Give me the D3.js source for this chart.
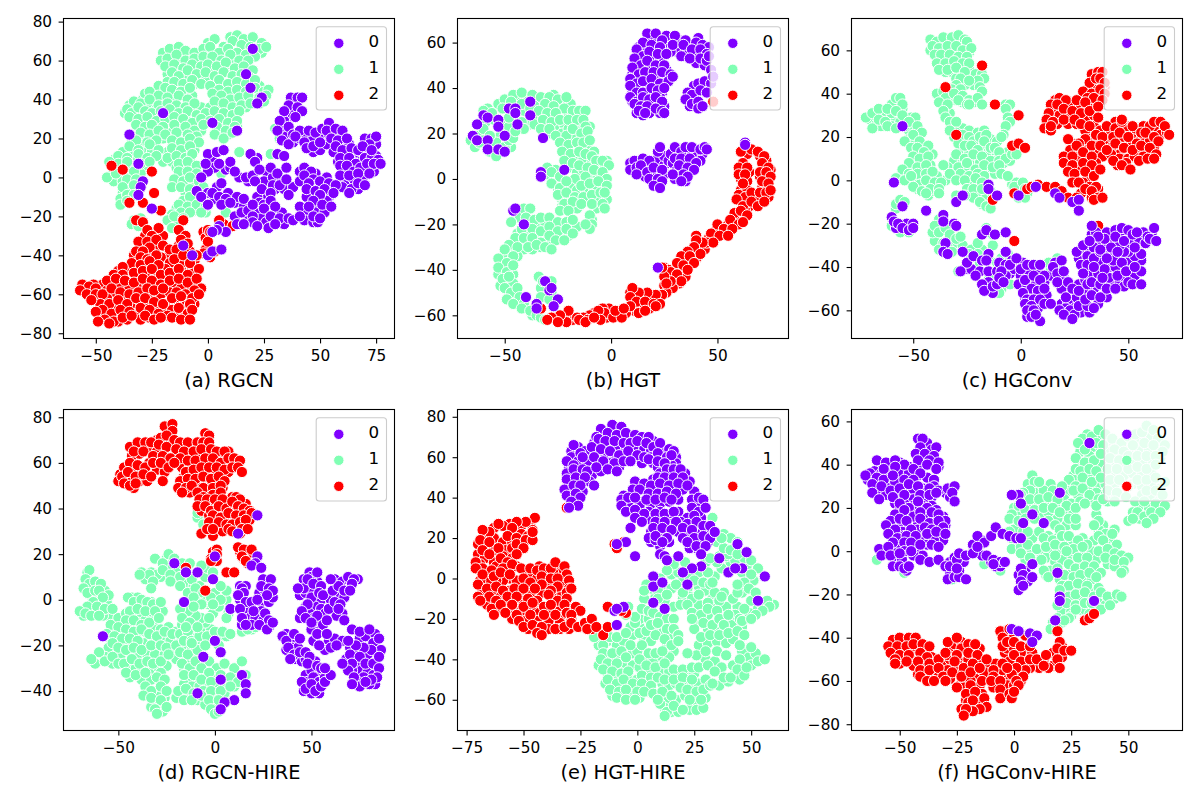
<!DOCTYPE html>
<html><head><meta charset="utf-8">
<script src="https://cdn.jsdelivr.net/npm/d3@7"></script>
<style>html,body{margin:0;padding:0;background:#fff;overflow:hidden}svg{display:block}text{font-family:"DejaVu Sans",sans-serif;fill:#000}</style>
</head><body><svg id="c" width="1200" height="800"></svg>
<script>
// Panel (a) RGCN
const a0=[[20,66],[17,53],[19,46],[24,41],[22,38],[-20,33],[2,28],[13,24],[-35,22],[-31,7],[-29,-2],[-30,-5],[-31,-9],[-25,-16],[-11,-35],[-7,-40],[0,-40],[2,-38],[6,-37],[4,-27],[2,-28],
[37,41],[40,41],[42,41],[36,37],[40,36],[34,34],[42,34],[39,31],[32,29],[36,26],[31,24],[38,22],[41,24],[33,19],[36,17],[39,21],[43,18],[45,24],[48,23],[51,25],[54,28],[53,24],[57,25],[60,24],[44,15],[47,16],[50,18],[55,20],[58,19],[62,20],[57,16],[60,14],[64,15],[67,14],
[59,10],[63,10],[66,7],[70,10],[73,10],[76,9],[70,20],[73,20],[75,21],[72,17],[69,16],[73,14],[59,6],[62,6],[65,3],[68,5],[71,7],[74,7],[77,7],[59,1],[63,1],[67,2],[72,2],[60,-5],[64,-6],[67,-3],[70,-4],[63,-8],
[0,12],[4,13],[7,14],[-1,7],[5,7],[10,8],[-3,0],[12,3],[17,0],[20,1],[19,12],[21,8],[23,4],[28,5],[31,2],[35,5],[31,12],[34,11],[6,-3],[21,-2],[24,-6],[28,-8],[32,-4],[35,-1],[36,-9],
[43,5],[46,3],[43,1],[47,-1],[45,-3],[50,-2],[54,-3],[57,-4],[44,-6],[48,-7],[52,-6],[56,-8],[50,-9],[47,-12],[51,-14],[55,-15],
[-5,-7],[-3,-10],[2,-8],[5,-10],[8,-11],[0,-14],[6,-14],[13,-10],[16,-11],[10,-13],[15,-18],[18,-17],[20,-14],[25,-14],[28,-12],[30,-15],[25,-16],[20,-20],[13,-24],[20,-23],[28,-20],[32,-21],[36,-21],[38,-22],[41,-15],[45,-15],[41,-20],[47,-20],[50,-21],[27,-26],[22,-25],[16,-24],[30,-24]];
const a0b=[[38,39],[37,33],[36,31],[34,29],[33,24],[35,21],[38,18],[41,20],[44,21],[47,20],[50,22],[54,22],[56,22],[60,21],[47,13],[50,14],[53,17],[56,13],[60,17],[63,17],[65,12],[68,11],[72,12],[75,17],[58,8],[61,8],[64,8],[68,8],[72,5],[75,11],[60,3],[64,4],[69,0],[74,3],[62,-2],[65,-1],[61,-4],[67,-6],[2,10],[3,5],[0,3],[8,4],[10,5],[14,0],[18,-2],[22,10],[26,3],[25,-2],[29,0],[33,-1],[30,-6],[34,-6],[38,-5],[25,-10],[29,-4],[22,-10],[41,3],[44,3],[48,2],[53,0],[41,-2],[46,-9],[50,-5],[54,-10],[53,-12],[49,-16],[44,-10],[43,-18],[0,-8],[3,-11],[4,-5],[9,-8],[12,-13],[12,-20],[16,-15],[18,-22],[22,-17],[24,-21],[26,-23],[30,-19],[33,-18],[34,-24],[23,-13],[43,-22],[48,-18],[52,-18],[47,-23],[49,-23],[5,-25],[8,-28]];
const a1=[[10,72],[13,73],[16,71],[20,72],[24,69],[0,69],[3,71],[7,67],[11,70],[15,68],[19,67],[23,66],[26,67],
[-20,64],[-17,66],[-13,67],[-10,65],[-6,64],[-2,66],[1,67],[5,64],[9,66],[13,64],[17,63],[21,62],
[-21,60],[-18,61],[-14,63],[-10,60],[-6,61],[-2,62],[2,62],[6,60],[10,63],[14,60],[18,60],
[-19,57],[-15,58],[-11,56],[-7,58],[-3,57],[0,58],[4,57],[8,59],[12,56],[16,57],[20,55],
[-16,54],[-13,52],[-9,55],[-5,53],[-1,54],[3,52],[7,54],[11,52],[15,53],[19,51],
[-15,49],[-11,48],[-7,50],[-3,48],[5,50],[9,48],[13,49],[17,48],[21,50],
[-22,47],[-19,46],[-16,45],[-12,44],[-8,46],[1,47],[5,45],[9,44],[13,45],[17,44],[21,46],[25,44],[27,45],
[-28,43],[-26,44],[-22,42],[-18,41],[-13,42],[-9,40],[2,43],[6,42],[10,40],[14,41],[18,42],[23,41],[26,42],
[-33,39],[-30,38],[-26,40],[-22,37],[-18,38],[-14,37],[-10,36],[-6,38],[3,39],[7,38],[11,36],[15,37],[19,38],[23,38],[25,39],
[-36,35],[-34,33],[-31,36],[-28,34],[-25,33],[-21,34],[-17,35],[-13,33],[-9,34],[-5,32],[-1,33],[3,34],[7,33],[11,32],[14,34],
[-35,31],[-31,30],[-27,31],[-23,29],[-19,30],[-15,31],[-11,30],[-7,28],[-3,30],[1,29],[5,30],[9,28],[13,29],
[-32,27],[-28,26],[-25,27],[-20,26],[-15,27],[-10,26],[-6,24],[-2,27],[4,26],[8,24],[12,26],
[-30,23],[-26,22],[-22,24],[-19,22],[-14,23],[-9,22],[-5,21],[3,22],[7,20],[11,23],
[-32,19],[-27,18],[-23,19],[-16,19],[-12,18],[-8,20],[-4,18],[-35,16],[-31,14],[-26,17],[-22,14],[-16,15],[-12,14],[-8,16],
[-40,11],[-36,10],[-31,12],[-27,10],[-23,11],[-18,10],[-14,11],[-10,10],[-7,12],[14,13],[19,12],[28,12],[30,25],[32,20],
[-44,8],[-40,7],[-36,8],[-30,7],[-26,8],[-13,7],[-9,8],[-5,6],[-42,3],[-38,4],[-33,3],[-13,3],[-9,3],[-5,2],[6,2],
[-45,0],[-41,2],[-36,-1],[-32,-1],[-15,-1],[-11,-2],[-8,0],[-4,-2],[-38,-5],[-33,-4],[-16,-5],[-12,-5],[-8,-6],[-2,-5],
[-39,-11],[-36,-9],[-33,-9],[-8,-10],[-3,-9],[-39,-14],[-36,-12],[-13,-14],[-9,-15],[-5,-14],[-1,-15],
[-16,-19],[-12,-18],[-8,-18],[-3,-18],[8,-18],[-33,-22],[-30,-21],[-18,-22],[-15,-20],[-11,-21],[-34,-24],[-31,-25],[-16,-26]];
const a1b=[[-19,63],[-16,62],[-12,60],[-8,63],[-4,60],[0,60],[4,62],[8,62],[12,61],[16,65],[20,64],[24,64],[-17,57],[-13,60],[-9,58],[-5,55],[-1,51],[2,56],[6,56],[10,55],[14,55],[18,55],[-18,53],[-14,49],[-10,51],[-6,48],[-18,49],[7,47],[11,47],[15,50],[19,47],[23,47],[-20,44],[-15,40],[-11,42],[-7,42],[4,40],[8,41],[12,43],[16,39],[20,40],[24,43],[-24,41],[-29,40],[-35,37],[-31,33],[-27,36],[-23,35],[-19,33],[-15,34],[-11,33],[-7,36],[-3,36],[1,36],[5,36],[9,35],[13,37],[17,36],[-37,33],[-33,30],[-29,29],[-25,30],[-21,28],[-17,28],[-13,28],[-9,29],[-5,26],[0,31],[3,28],[7,28],[11,29],[-30,26],[-26,25],[-22,26],[-18,24],[-12,25],[-8,24],[-3,24],[5,24],[9,22],[13,26],[-28,20],[-24,21],[-20,20],[-14,20],[-10,19],[-6,18],[-34,18],[-30,17],[-24,16],[-18,13],[-14,17],[-10,14],[-6,14],[-38,13],[-33,11],[-29,13],[-25,13],[-20,8],[-16,8],[-12,10],[-8,9],[-42,9],[-38,6],[-34,6],[-28,5],[-14,5],[-10,5],[-6,4],[-40,1],[-35,4],[-30,2],[-12,0],[-6,0],[-42,-2],[-38,-2],[-34,-6],[-14,-3],[-10,-4],[-6,-3],[-35,-12],[-38,-8],[-10,-8],[-5,-8],[-11,-12],[-7,-13],[-3,-13],[-14,-16],[-10,-17],[-6,-17],[-1,-18],[-16,-22],[-13,-23],[-32,-23]];
const a2=[[-43,6],[-38,4],[-25,3],[-24,-8],[-35,-13],[-29,-13],[-21,-17],[-32,-22],[-29,-23],[-11,-22],[-27,-27],[7,-24],[5,-22],[11,-25],[0,-27],[1,-28],[3,-38],[0,-33],
[-13,-27],[-10,-30],[-12,-32],[-9,-34],[-22,-26],[-25,-30],[-27,-33],[-23,-32],[-20,-35],[-26,-36],[-32,-38],[-29,-38],[-17,-37],[-14,-37],[-30,-41],[-27,-42],[-23,-40],[-15,-42],[-11,-40],[-8,-44],[-5,-40],
[-34,-44],[-30,-45],[-26,-43],[-22,-45],[-38,-46],[-42,-50],[-38,-50],[-33,-49],[-29,-48],[-25,-47],[-21,-50],[-17,-49],[-13,-47],[-9,-50],[-4,-47],[-45,-53],[-41,-52],[-37,-53],[-33,-54],[-29,-52],[-25,-53],[-21,-55],[-17,-53],[-13,-52],[-9,-54],[-5,-52],[-3,-57],[-6,-58],
[-56,-55],[-53,-56],[-50,-57],[-57,-58],[-54,-60],[-50,-60],[-47,-60],[-43,-57],[-39,-59],[-35,-60],[-31,-59],[-27,-57],[-24,-58],[-20,-57],[-14,-59],[-10,-60],[-7,-62],[-4,-60],
[-48,-65],[-44,-65],[-40,-63],[-36,-65],[-32,-62],[-28,-62],[-24,-64],[-20,-65],[-16,-62],[-12,-61],[-8,-65],[-52,-63],[-47,-68],[-43,-70],[-39,-68],[-35,-69],[-30,-67],[-26,-68],[-22,-70],[-18,-71],[-13,-67],[-9,-70],[-7,-68],
[-50,-69],[-46,-73],[-42,-74],[-38,-72],[-34,-71],[-28,-71],[-24,-73],[-21,-72],[-16,-72],[-12,-73],[-8,-73],[-44,-75],[-49,-74]];
const a2b=[[-20,-30],[-23,-36],[-28,-30],[-31,-33],[-18,-41],[-33,-40],[-29,-43],[-25,-39],[-21,-41],[-17,-44],[-11,-44],[-6,-43],[-13,-35],[-8,-38],[-36,-47],[-31,-50],[-27,-50],[-23,-49],[-19,-47],[-15,-50],[-11,-49],[-7,-47],[-40,-48],[-43,-54],[-39,-55],[-35,-57],[-31,-55],[-27,-55],[-23,-56],[-19,-54],[-15,-56],[-11,-57],[-7,-55],[-47,-55],[-51,-55],[-45,-58],[-41,-60],[-37,-62],[-33,-62],[-29,-60],[-25,-61],[-21,-60],[-17,-59],[-12,-57],[-8,-59],[-55,-57],[-52,-60],[-49,-63],[-45,-62],[-42,-66],[-38,-66],[-34,-66],[-30,-64],[-26,-65],[-22,-66],[-18,-65],[-14,-64],[-10,-66],[-6,-65],[-48,-71],[-45,-70],[-41,-71],[-37,-69],[-32,-70],[-28,-69],[-24,-70],[-20,-69],[-16,-68],[-11,-70],[-40,-74],[-36,-73],[-30,-73],[-26,-72],[-14,-71],[-10,-71],[-23,-68],[-2,-28],[-1,-31],[-1,-37],[-2,-39],[1,-41]];
// Panel (b) HGT
const b0=[[17,64],[21,64],[24,61],[30,63],[35,61],[40,60],[43,59],[46,58],[15,60],[19,59],[23,58],[29,59],[34,59],[38,57],[42,57],[45,55],[12,57],[15,54],[18,56],[22,55],[26,55],[33,54],[37,53],[42,53],[45,52],
[11,53],[14,50],[17,52],[21,50],[25,50],[10,49],[13,46],[16,47],[20,47],[24,47],[28,46],[9,44],[12,42],[15,43],[19,44],[23,42],[27,43],[29,45],[9,41],[12,38],[15,38],[19,40],[22,39],[25,40],
[9,36],[12,34],[15,36],[18,35],[21,36],[24,34],[11,33],[14,32],[17,32],[21,31],[24,30],[13,30],[16,29],[25,29],
[36,38],[38,37],[35,35],[38,33],[41,34],[41,31],[43,32],[41,42],[44,43],[42,39],[47,42],[45,38],[46,54],[47,48],[48,45],
[9,7],[11,8],[9,4],[12,5],[15,9],[18,8],[22,12],[23,14],[14,6],[12,2],[17,3],[20,5],[24,4],[18,0],[22,0],[24,-1],[20,-3],[23,-4],[28,11],[30,14],[33,12],[35,14],[38,14],[42,13],[44,14],[45,13],[30,9],[33,9],[37,9],[40,7],[32,6],[36,5],[39,4],[34,2],[36,1],[33,-1],[29,2],
[-65,19],[-63,17],[-63,24],[-60,28],[-58,27],[-53,26],[-53,23],[-58,17],[-58,13],[-53,13],[-50,12],[-50,19],[-48,31],[-45,31],[-45,29],[-44,24],[-38,34],[-38,28],[-32,18],[-33,3],[-33,1],[-22,4],[-46,-14],[-45,-13],[-41,-20],[-31,-45],[-29,-49],[-28,-48],[-25,-53],[-27,-56],[-40,-52],[-35,-55],[-35,-57],[22,-39],[63,16],[63,15]];
const b0b=[[19,62],[26,63],[32,61],[37,59],[41,62],[13,58],[17,58],[21,57],[25,58],[31,56],[36,55],[40,55],[44,58],[13,52],[16,52],[19,53],[23,53],[28,56],[40,51],[44,50],[12,48],[15,49],[18,48],[22,48],[26,48],[10,46],[14,44],[17,44],[21,45],[25,44],[10,42],[13,40],[17,41],[21,41],[24,38],[10,38],[14,36],[17,38],[20,38],[23,36],[10,34],[13,32],[16,33],[19,33],[22,32],[25,32],[12,29],[15,28],[18,29],[23,29],[37,35],[40,33],[39,36],[43,39],[39,41],[44,40],[37,32],[10,6],[13,8],[16,6],[19,5],[21,8],[22,3],[25,6],[16,1],[19,2],[15,4],[21,-2],[25,2],[25,10],[27,8],[31,11],[35,11],[37,12],[40,12],[43,11],[29,7],[34,7],[38,6],[42,8],[31,4],[35,3],[37,3],[30,0],[33,3],[35,-1]];
const b1=[[-66,17],[-64,14],[-62,16],[-60,30],[-56,29],[-60,22],[-57,19],[-57,12],[-54,10],[-50,14],[-48,17],[-46,18],[-53,33],[-50,35],[-46,37],[-42,38],[-37,37],[-33,36],[-51,31],[-47,34],[-42,33],[-38,31],[-42,25],[-41,22],[-36,24],[-45,21],
[-29,36],[-25,35],[-21,36],[-31,33],[-27,32],[-22,31],[-34,30],[-30,29],[-26,29],[-18,30],[-15,30],[-12,30],[-32,26],[-28,25],[-24,26],[-20,26],[-16,26],[-13,26],[-12,23],[-33,22],[-29,22],[-26,19],[-21,19],[-18,22],[-14,20],[-11,21],[-24,16],[-20,15],[-16,16],[-13,16],[-10,17],[-23,12],[-19,11],[-15,12],[-12,11],[-9,10],[-22,8],[-18,7],[-15,6],[-11,5],[-7,8],[-4,8],[-1,6],[-30,5],[-28,3],[-24,1],[-12,1],[-8,4],[-4,3],[-2,0],[-28,-2],[-24,-4],[-21,-1],[-14,-3],[-10,-2],[-6,-1],[-2,-3],[-25,-7],[-21,-6],[-17,-8],[-13,-8],[-9,-7],[-5,-6],[-3,-6],[-22,-11],[-18,-10],[-14,-11],[-9,-11],[-4,-11],[-3,-13],[-24,-14],[-20,-14],[-10,-16],[-9,-20],[-10,-22],[-12,-20],
[-41,-13],[-38,-13],[-40,-17],[-47,-19],[-36,-18],[-33,-17],[-29,-17],[-25,-19],[-21,-19],[-18,-18],[-42,-22],[-37,-22],[-33,-23],[-29,-21],[-25,-23],[-21,-22],[-18,-24],[-45,-26],[-41,-26],[-37,-26],[-33,-28],[-29,-25],[-26,-27],[-22,-27],[-48,-29],[-44,-30],[-39,-30],[-35,-29],[-31,-30],[-28,-31],[-50,-31],[-46,-34],[-53,-35],[-49,-37],[-53,-39],[-49,-41],[-46,-38],[-51,-44],[-48,-43],[-50,-48],[-47,-50],[-44,-48],[-43,-52],[-41,-55],[-49,-53],[-46,-55],[-42,-57],[-38,-58],[-35,-60],[-33,-61],[-31,-62],[-32,-45],[-28,-45],[-33,-52],[-29,-53]];
const b1b=[[-63,19],[-60,17],[-59,25],[-58,31],[-55,26],[-52,19],[-50,24],[-48,23],[-48,27],[-54,16],[-47,14],[-50,33],[-44,35],[-40,36],[-35,34],[-41,30],[-37,27],[-40,34],[-44,22],[-38,24],[-32,35],[-27,37],[-23,34],[-19,33],[-28,34],[-25,32],[-20,29],[-16,28],[-32,30],[-28,28],[-24,23],[-30,24],[-26,23],[-22,24],[-17,24],[-14,23],[-10,23],[-28,20],[-23,20],[-20,22],[-16,21],[-12,18],[-22,16],[-18,18],[-14,14],[-11,14],[-8,12],[-21,10],[-17,10],[-13,9],[-9,7],[-6,7],[-20,5],[-16,3],[-13,4],[-6,5],[-2,8],[-3,5],[-26,4],[-30,2],[-26,-2],[-22,-3],[-10,1],[-6,1],[-17,0],[-25,-4],[-19,-4],[-16,-5],[-12,-5],[-8,-4],[-4,-2],[-23,-9],[-19,-8],[-15,-9],[-11,-9],[-7,-9],[-2,-9],[-23,-12],[-16,-13],[-20,-11],[-7,-13],[-9,-18],[-43,-17],[-44,-24],[-39,-20],[-35,-21],[-31,-19],[-27,-21],[-23,-20],[-19,-21],[-16,-21],[-40,-24],[-36,-24],[-32,-25],[-28,-23],[-24,-26],[-20,-25],[-43,-28],[-38,-27],[-34,-26],[-30,-27],[-41,-31],[-37,-31],[-33,-30],[-47,-31],[-44,-34],[-50,-34],[-47,-36],[-51,-38],[-48,-39],[-53,-42],[-49,-45],[-46,-42],[-52,-47],[-46,-46],[-48,-51],[-44,-51],[-45,-53],[-43,-55],[-40,-57],[-47,-53],[-37,-60],[-34,-60],[-30,-48],[-33,-48],[-31,-52],[-28,-50],[-34,-43]];
const b2=[[61,12],[66,13],[69,12],[72,10],[62,7],[60,5],[64,5],[71,7],[74,5],[60,2],[63,2],[70,3],[73,3],[75,1],[62,-2],[71,-1],[74,-2],[60,-7],[63,-8],[66,-6],[70,-6],[73,-6],[75,-5],[59,-9],[62,-12],[66,-10],[69,-12],[72,-10],[58,-15],[61,-14],[64,-16],[56,-18],[60,-20],[62,-19],[50,-20],[53,-22],[57,-22],[47,-24],[51,-25],[55,-25],[45,-28],[48,-28],[43,-28],[40,-25],[40,-27],[39,-30],[36,-32],[42,-33],[33,-34],[37,-34],[39,-37],[31,-37],[34,-38],[28,-41],[31,-42],[36,-40],[33,-45],[28,-45],[25,-43],[26,-46],[24,-39],[24,-51],[21,-51],[17,-50],[13,-50],[10,-48],[9,-52],[12,-54],[16,-54],[20,-55],[23,-55],[9,-56],[13,-59],[16,-58],[21,-56],
[-1,-57],[-4,-57],[-3,-59],[-6,-58],[-5,-62],[1,-61],[5,-61],[-11,-62],[-16,-61],[-15,-62],[-20,-58],[-21,-63],[-24,-60],[-28,-61],[-30,-62],[-25,-63],[-12,-63],[-8,-61],[2,-58],[6,-57],[-33,-57],[48,34]];
const b2b=[[64,11],[70,10],[73,8],[65,3],[62,4],[61,0],[72,5],[75,4],[64,-1],[70,1],[74,0],[61,-5],[64,-5],[68,-8],[71,-4],[74,-8],[65,-12],[70,-9],[63,-14],[58,-18],[55,-20],[58,-20],[52,-24],[49,-23],[46,-26],[49,-26],[41,-30],[44,-31],[38,-33],[35,-36],[40,-35],[32,-40],[36,-37],[29,-44],[32,-46],[27,-42],[35,-43],[25,-47],[29,-48],[22,-52],[26,-50],[19,-52],[15,-52],[11,-52],[14,-56],[18,-57],[11,-58],[7,-59],[9,-50],[3,-60],[0,-60],[-2,-61],[-8,-59],[-10,-60],[-13,-61],[-18,-62],[-22,-61],[-26,-61],[-5,-59],[-3,-57],[-1,-59],[25,-39],[27,-40]];
// Panel (c) HGConv
const c0=[[-55,25],[-59,-1],[-55,-12],[-44,-14],[-36,-16],[-36,-19],[-31,-20],[-30,-21],[-30,-10],[-27,-7],[-15,-2],[-15,-4],[-11,-7],[-1,-7],[7,-3],[16,-6],[18,-8],[24,-10],[27,-9],[27,-14],
[-60,-17],[-59,-19],[-57,-20],[-55,-22],[-52,-23],[-50,-20],[-50,-22],[-35,-29],[-36,-33],[-34,-34],[-27,-33],[-18,-25],[-16,-23],[-12,-25],[-7,-24],
[-25,-38],[-28,-42],[-22,-35],[-18,-37],[-15,-34],[-16,-37],[-21,-44],[-18,-48],[-17,-51],[-13,-49],[-11,-48],
[-7,-33],[-4,-37],[-7,-39],[-5,-39],[-9,-42],[-10,-45],[-8,-47],[0,-41],[-2,-36],[3,-39],[6,-39],[9,-39],[11,-44],[2,-46],[6,-44],[9,-46],[5,-50],[1,-52],[8,-51],[11,-50],[3,-55],[6,-55],[2,-57],[5,-58],[9,-55],[3,-60],[6,-60],[5,-63],[9,-65],[7,-62],[11,-57],[14,-57],[18,-60],[19,-37],[15,-40],[17,-43],[20,-42],[17,-47],[22,-47],[21,-54],[24,-50],[27,-51],[31,-48],[23,-60],[25,-62],[20,-62],[24,-64],[27,-58],[31,-58],[34,-59],[30,-55],[33,-53],[37,-54],
[26,-33],[29,-30],[31,-35],[34,-31],[31,-39],[34,-36],[37,-33],[33,-47],[37,-48],[41,-45],[36,-43],[39,-41],[43,-37],[40,-50],[44,-50],[45,-44],[47,-38],[49,-42],[50,-47],[52,-48],[56,-48],[56,-42],[53,-40],[56,-34],[53,-31],[48,-33],[46,-30],[42,-31],[39,-27],[36,-26],[33,-21],[32,-28],[44,-26],[47,-22],[50,-23],[48,-28],[52,-25],[54,-24],[59,-26],[62,-22],[60,-27],[63,-28],[37,-32],[40,-36],[45,-33],[29,-43],[34,-40],[38,-45]];
const c0b=[[-26,-41],[-23,-41],[-19,-42],[-15,-42],[-11,-42],[-5,-43],[-3,-41],[-7,-44],[-15,-47],[-13,-52],[-10,-38],[1,-38],[0,-44],[4,-42],[8,-42],[-1,-48],[3,-48],[7,-48],[11,-47],[4,-52],[7,-54],[10,-52],[12,-53],[2,-54],[7,-57],[3,-63],[8,-59],[5,-60],[16,-38],[20,-45],[14,-44],[23,-48],[19,-50],[19,-57],[22,-57],[26,-54],[29,-52],[34,-50],[27,-48],[21,-59],[25,-59],[28,-61],[32,-61],[36,-57],[40,-54],[31,-51],[27,-36],[30,-33],[28,-39],[33,-36],[36,-36],[41,-34],[30,-46],[33,-43],[41,-40],[44,-40],[42,-47],[46,-47],[47,-44],[48,-49],[53,-44],[56,-37],[50,-37],[53,-35],[50,-33],[46,-35],[49,-30],[43,-28],[40,-24],[38,-30],[35,-29],[33,-25],[44,-23],[47,-25],[51,-27],[46,-26],[55,-27],[58,-29],[61,-24],[57,-24],[35,-24],[38,-38],[-58,-22],[-53,-20]];
const c1=[[-42,65],[-39,64],[-36,66],[-32,66],[-29,67],[-26,65],[-25,64],[-41,62],[-38,61],[-34,62],[-30,62],[-27,60],[-23,61],[-40,58],[-37,58],[-33,58],[-29,57],[-25,57],[-39,54],[-35,54],[-31,55],[-27,54],[-24,54],[-38,51],[-34,51],[-30,52],[-26,50],
[-18,49],[-17,47],[-20,46],[-28,47],[-24,46],[-30,44],[-19,43],[-32,42],[-28,42],[-18,41],
[-39,40],[-36,41],[-35,38],[-31,40],[-27,39],[-24,37],[-20,38],[-38,36],[-34,35],[-29,37],[-25,35],[-24,35],[-36,32],[-18,35],[-7,35],[-5,35],[-7,33],[-35,29],[-6,29],[-5,27],[-33,27],[-30,27],[-7,25],[-8,21],[-9,20],
[-30,22],[-33,23],[-27,21],[-24,20],[-22,18],[-19,20],[-16,21],[-29,17],[-26,16],[-23,16],[-20,14],[-17,18],[-14,15],[-12,15],[-10,13],[-30,12],[-26,10],[-22,12],[-18,11],[-14,9],[-10,9],[-7,10],[-4,12],[-2,12],[-29,6],[-25,8],[-21,5],[-17,7],[-13,6],[-10,7],[-9,3],[-6,2],[-28,3],[-24,2],[-20,3],[-17,2],
[-36,7],[-33,3],[-30,0],[-26,0],[-21,1],[-18,-1],
[-72,29],[-69,24],[-69,31],[-66,33],[-66,28],[-63,27],[-60,35],[-58,38],[-56,38],[-55,35],[-62,33],[-58,32],[-55,30],[-62,25],[-58,24],[-54,25],[-49,29],[-52,27],[-48,25],[-46,22],[-50,21],[-54,18],[-47,18],[-51,15],[-48,15],[-43,16],[-45,13],[-50,11],[-47,10],[-43,11],[-52,8],[-48,6],[-44,7],[-55,5],[-52,3],[-48,3],[-44,3],[-41,4],[-58,1],[-54,0],[-51,2],[-47,-2],[-44,0],[-40,-1],[-37,-1],[-50,-3],[-46,-5],[-42,-4],[-38,-4],[-44,-6],[-38,-6],
[-25,-4],[-22,-4],[-18,-4],[-14,-5],[-22,-8],[-19,-10],[-16,-12],[-14,-13],[-26,-7],[-3,-3],[1,-1],[2,-4],[-1,-8],[2,-8],[-30,-7],
[-58,-11],[-56,-9],[-54,-10],[-60,-21],[-56,-24],[-52,-24],[-38,-18],[-40,-21],[-38,-24],[-35,-22],[-33,-25],[-30,-27],[-28,-26],[-36,-29],[-38,-32],[-32,-33],[-20,-29],[-16,-22],[-13,-25],[-24,-34],[-20,-34],[-15,-36],[-11,-38],[-7,-33],[-12,-44],[-29,-42],[-6,-34],[-13,-50],[-10,-52],[-5,-48],[17,-36],[4,-60],[13,-38],[18,-40]];
const c1b=[[-40,64],[-37,62],[-33,64],[-30,65],[-27,63],[-42,60],[-36,60],[-32,60],[-28,59],[-24,59],[-38,56],[-34,56],[-30,58],[-26,56],[-37,53],[-33,53],[-29,53],[-35,50],[-32,50],[-28,51],[-24,51],[-21,49],[-19,46],[-30,47],[-26,47],[-22,44],[-29,40],[-26,44],[-34,40],[-37,39],[-32,37],[-27,36],[-22,36],[-36,34],[-33,31],[-31,25],[-27,24],[-24,23],[-20,22],[-17,23],[-14,19],[-11,18],[-31,20],[-28,19],[-25,18],[-21,16],[-18,15],[-15,13],[-12,12],[-8,12],[-6,13],[-28,14],[-24,13],[-20,11],[-16,11],[-12,9],[-8,8],[-5,9],[-31,9],[-27,8],[-23,7],[-19,8],[-15,5],[-12,3],[-26,5],[-22,3],[-18,4],[-34,6],[-31,3],[-27,2],[-23,0],[-35,0],[-70,28],[-67,26],[-65,30],[-63,32],[-60,28],[-60,31],[-58,36],[-55,33],[-65,25],[-60,25],[-56,27],[-51,29],[-50,25],[-52,23],[-48,22],[-52,19],[-49,18],[-50,14],[-46,15],[-43,13],[-48,12],[-45,10],[-41,12],[-50,8],[-46,7],[-42,7],[-53,5],[-50,5],[-46,3],[-42,1],[-56,2],[-52,0],[-49,0],[-45,-3],[-41,-2],[-39,2],[-48,-4],[-43,-7],[-40,-5],[-23,-6],[-20,-7],[-16,-8],[-18,-11],[-13,-9],[-4,-2],[0,-5],[-2,-1],[3,-6],[-58,-13],[-57,-22],[-53,-20],[-37,-22],[-33,-23],[-31,-29],[-27,-30],[-34,-31],[-40,-28],[-41,-24],[-23,-32],[-18,-32],[-13,-30],[-9,-36],[-15,-42],[-24,-40],[-9,-50],[-15,-46],[-19,-38],[16,-44],[14,-41]];
const c2=[[-18,53],[-35,43],[-12,35],[-1,30],[-30,21],[-4,16],[-1,17],[2,15],[-13,-9],[-3,-6],[3,-4],[5,-3],[8,-2],[12,-3],[16,-3],[19,-5],[22,-8],[26,-8],[-3,-28],[36,-21],
[33,49],[36,50],[38,50],[32,45],[35,47],[37,47],[39,45],[29,41],[33,40],[37,42],[39,40],[31,38],[34,38],[38,37],[14,35],[18,38],[21,37],[26,37],[30,36],[13,31],[17,35],[20,33],[24,32],[28,31],[32,32],[36,34],[12,28],[15,27],[11,24],[14,23],[20,28],[25,28],[28,26],[32,25],[36,29],[14,25],
[40,25],[44,24],[47,27],[47,28],[52,25],[56,22],[60,25],[62,27],[65,27],[67,25],[69,21],[35,21],[38,20],[43,20],[46,22],[50,20],[54,17],[58,22],[62,20],[64,18],[30,19],[33,16],[37,16],[40,14],[44,17],[48,15],[52,14],[56,16],[60,15],[63,12],[22,19],[27,17],[23,14],[26,16],[29,13],[33,11],[20,11],[24,11],[20,8],[24,7],[29,8],[33,7],[43,9],[47,7],[51,5],[55,9],[59,10],[62,10],[22,4],[25,3],[30,4],[34,2],[37,5],[24,-1],[27,-1],[35,-3],[30,-4],[33,-5],[36,-8],[34,-9],[38,-8]];
const c2b=[[34,47],[36,44],[31,42],[34,42],[36,39],[39,43],[33,36],[16,37],[19,35],[23,35],[27,34],[31,34],[15,31],[18,30],[22,30],[26,30],[30,29],[34,30],[13,26],[17,26],[22,26],[26,26],[30,23],[34,25],[12,26],[41,22],[44,27],[49,25],[53,22],[57,25],[63,24],[66,22],[37,23],[40,18],[45,19],[48,20],[52,19],[56,19],[60,18],[65,21],[68,22],[32,19],[35,17],[39,16],[42,15],[46,12],[50,16],[54,13],[58,13],[62,15],[24,17],[28,14],[31,14],[35,12],[38,11],[42,12],[46,10],[50,10],[53,11],[57,11],[22,9],[27,11],[31,9],[35,8],[45,7],[49,8],[23,6],[27,5],[31,1],[34,5],[25,0],[29,-1],[32,-3],[36,-4],[28,-6],[33,-8]];
// Panel (d) RGCN-HIRE
const d0=[[22,37],[12,29],[22,19],[21,16],[19,15],[24,14],[-21,16],[-15,12],[-9,12],[0,19],[-1,9],[25,9],[29,9],[-58,-16],[-16,-1],[8,-4],[0,-18],[3,-23],[-6,-25],[3,-35],[-9,-41],[14,-33],[16,-37],[16,-41],[10,-44],[5,-45],[3,-48],
[14,5],[15,3],[12,2],[24,6],[28,5],[30,4],[27,2],[16,-1],[19,-1],[22,0],[13,-4],[20,-5],[26,-6],[28,-9],[14,-8],[16,-11],[23,-11],[27,-13],[30,-10],[35,-16],[37,-18],[41,-15],[44,-17],[38,-21],[41,-24],[39,-26],[44,-23],[47,-23],[49,-25],[48,-28],[53,-29],[55,-30],[45,-36],[47,-39],[50,-37],[52,-40],[55,-38],[57,-36],[60,-33],[57,-30],
[46,5],[50,10],[53,12],[48,9],[51,7],[55,6],[43,5],[50,1],[54,3],[56,2],[48,-2],[45,-5],[47,-8],[53,-7],[50,-10],[56,-11],[58,-9],[53,-15],[58,-15],[54,-20],[60,-21],[59,-4],[62,-1],[65,-2],[61,4],[64,6],[67,4],[60,9],[69,10],[72,9],[71,7],[70,4],[64,-4],[67,-9],[75,-14],[80,-13],[85,-17],[86,-22],[81,-22],[77,-21],[73,-20],[69,-18],[70,-24],[75,-25],[78,-28],[82,-28],[85,-30],[84,-34],[81,-35],[71,-28],[69,-31],[72,-34],[75,-38],[71,-37],[78,-36],[85,-25],[66,-28],[63,-20]];
const d0b=[[13,6],[16,6],[13,0],[23,3],[26,4],[24,-1],[28,-1],[30,1],[17,-4],[24,-5],[18,-8],[21,-8],[25,-9],[28,-12],[14,-11],[19,-11],[37,-15],[40,-18],[37,-22],[40,-21],[43,-21],[42,-26],[45,-27],[47,-26],[50,-28],[52,-27],[47,-33],[50,-31],[54,-33],[48,-36],[51,-34],[46,-40],[50,-41],[54,-41],[54,-36],[57,-34],[49,7],[46,9],[49,12],[52,10],[53,8],[44,2],[47,3],[50,4],[52,1],[55,0],[47,-3],[52,-3],[55,-4],[49,-6],[44,-8],[51,-8],[54,-11],[57,-6],[50,-13],[55,-13],[59,-18],[51,-18],[57,-22],[62,-17],[62,-4],[60,0],[64,1],[67,1],[62,9],[66,8],[66,-6],[70,8],[63,-7],[74,9],[71,-13],[75,-17],[78,-16],[83,-15],[82,-19],[79,-24],[74,-22],[84,-23],[73,-28],[76,-31],[79,-32],[82,-33],[70,-21],[68,-26],[71,-31],[77,-34],[74,-36],[83,-37],[80,-37],[66,-18]];
const d1=[[-65,13],[-67,9],[-65,7],[-62,8],[-68,5],[-66,3],[-62,4],[-59,7],[-60,4],[-55,2],[-58,1],[-63,-1],[-66,-3],[-61,-3],[-70,-5],[-67,-6],[-64,-7],[-57,-4],[-53,-4],[-60,-7],[-45,1],[-42,-1],[-38,0],[-35,-1],[-32,-2],[-28,-1],[-44,-5],[-40,-4],[-36,-5],[-31,-5],[-46,-9],[-42,-9],[-38,-11],[-34,-10],[-29,-8],[-54,-11],[-50,-12],[-46,-13],[-42,-14],[-38,-13],[-56,-15],[-52,-16],[-48,-17],[-44,-17],[-40,-18],[-34,-15],[-30,-16],[-26,-14],[-22,-15],[-18,-15],[-14,-14],[-53,-19],[-50,-21],[-46,-22],[-42,-21],[-38,-22],[-33,-20],[-28,-20],[-25,-21],[-20,-20],[-16,-18],[-12,-18],[-8,-16],[-4,-16],[0,-14],[4,-14],[8,-15],
[-60,-23],[-57,-27],[-53,-25],[-50,-28],[-47,-28],[-43,-26],[-39,-28],[-35,-27],[-32,-28],[-28,-27],[-24,-24],[-18,-23],[-14,-24],[-9,-22],[-5,-20],[-12,-19],[-64,-26],[-46,-32],[-41,-33],[-36,-32],[-30,-34],[-26,-35],[-17,-28],[-13,-30],[-10,-27],[-7,-30],[-3,-32],[5,-28],[10,-30],[14,-27],[-16,-33],[-11,-33],[-7,-35],[-2,-36],[3,-33],[8,-34],[12,-36],[16,-33],
[-36,-38],[-33,-40],[-28,-38],[-25,-40],[-19,-40],[-15,-39],[-11,-41],[-6,-40],[-2,-40],[3,-40],[8,-38],[-37,-42],[-33,-43],[-28,-44],[-25,-47],[-16,-44],[-12,-44],[-7,-42],[-3,-44],[2,-44],[-31,-48],[-30,-50],[-2,-48],[0,-50],[2,-49],
[-31,18],[-27,16],[-24,20],[-21,18],[-17,16],[-13,16],[-27,13],[-23,11],[-18,10],[-12,9],[-38,12],[-34,11],[-32,8],[-23,8],[-18,6],[-14,3],[-10,5],[-6,3],[-4,14],[-1,12],[-7,15],[-39,11],[-33,5],[-5,-1],[-2,1],[3,0],[6,4],[3,6],[-1,-2],[7,-6],[6,-8],[-7,-8],[-10,-7],[-14,-5],[-18,-4],[-17,-8],[-13,-10],[-9,-12],[-3,-8],[-15,-12],[14,-14],[17,-13],[21,-12],[-11,1],[-7,-2],[-11,-3],[-9,36],[-6,33],[-9,38]];
const d1b=[[-66,12],[-66,6],[-63,6],[-64,2],[-60,1],[-57,4],[-56,-1],[-60,-1],[-66,-5],[-63,-4],[-68,-7],[-55,-7],[-58,-7],[-50,-8],[-43,1],[-40,1],[-37,-2],[-33,-1],[-30,-3],[-46,-6],[-42,-6],[-38,-7],[-34,-6],[-44,-11],[-40,-10],[-36,-9],[-31,-9],[-27,-5],[-52,-13],[-48,-14],[-44,-14],[-40,-14],[-36,-14],[-32,-13],[-28,-13],[-24,-12],[-20,-14],[-54,-17],[-50,-17],[-46,-18],[-42,-18],[-36,-19],[-32,-17],[-27,-17],[-23,-18],[-18,-19],[-14,-17],[-10,-15],[-6,-14],[-2,-13],[2,-16],[6,-16],[-55,-21],[-51,-24],[-48,-24],[-44,-23],[-40,-24],[-36,-23],[-31,-24],[-26,-24],[-22,-22],[-16,-21],[-12,-22],[-7,-19],[-3,-18],[2,-20],[-57,-25],[-53,-28],[-49,-25],[-45,-29],[-41,-30],[-37,-28],[-33,-32],[-29,-30],[-25,-29],[-20,-26],[-15,-26],[-11,-25],[-8,-26],[-3,-27],[1,-30],[-62,-28],[-44,-34],[-38,-35],[-33,-35],[-28,-32],[-16,-30],[-12,-35],[-8,-33],[-5,-34],[0,-34],[5,-35],[10,-33],[-16,-37],[-12,-38],[-8,-38],[-4,-38],[0,-37],[5,-39],[10,-38],[-35,-40],[-30,-40],[-26,-43],[-30,-45],[-20,-43],[-15,-42],[-9,-44],[-5,-46],[0,-42],[5,-41],[-33,-47],[-28,-42],[-27,-49],[-1,-46],[-25,18],[-20,15],[-16,13],[-28,10],[-24,14],[-20,12],[-16,10],[-36,9],[-33,12],[-30,11],[-14,7],[-11,6],[-8,6],[-3,12],[-5,10],[-4,2],[0,3],[1,-1],[-3,-2],[6,0],[-12,-6],[-9,-9],[-16,-5],[-13,-2],[-9,-1],[-17,-11],[-11,-12],[-5,-10],[-1,-6],[2,-3],[15,-12],[19,-13],[-8,37]];
const d2=[[-26,76],[-22,77],[-22,74],[-5,73],[-3,72],[-28,71],[-25,72],[-21,70],[-18,69],[-14,69],[-9,69],[-6,69],[-3,69],[-44,67],[-40,69],[-36,69],[-33,69],[-29,68],[-25,67],[-20,66],[-16,65],[-11,65],[-7,66],[-2,66],[1,65],[5,65],[-42,65],[-37,65],[-32,63],[-27,63],[-23,62],[-18,62],[-14,61],[-10,61],[-5,62],[-1,62],[3,60],[7,62],[10,62],[13,61],[-47,58],[-44,60],[-40,59],[-36,58],[-32,60],[-28,60],[-24,58],[-21,60],[-15,56],[-11,57],[-7,58],[-3,58],[1,58],[5,57],[9,58],[12,58],[14,56],
[-50,52],[-48,54],[-45,56],[-41,54],[-37,55],[-33,54],[-27,52],[-18,52],[-14,53],[-10,53],[-6,54],[-2,53],[2,54],[5,52],[-47,51],[-44,50],[-41,51],[-19,49],[-15,49],[-12,50],[-6,49],[-1,49],[3,50],[-17,47],[-9,47],[-6,45],[-1,46],[3,47],[-8,44],[-4,44],[0,44],[4,44],[11,45],[13,44],[-9,41],[-5,41],[-2,39],[2,41],[6,40],[9,43],[12,41],[15,40],[18,39],[-1,37],[3,36],[7,38],[11,37],[15,37],[19,38],[-3,34],[2,34],[6,33],[9,33],[13,34],[16,35],[-7,29],[-4,31],[-1,31],[7,31],[9,30],[14,31],[17,31],[-1,21],[1,22],[-2,18],[-2,17],[1,20],[12,23],[15,22],[19,22],[14,19],[16,17],[-15,14],[6,12],[10,12],[-5,4]];
const d2b=[[-24,72],[-20,68],[-30,70],[-35,67],[-38,68],[-24,69],[-16,68],[-12,67],[-8,64],[-4,64],[0,63],[3,63],[7,65],[-43,63],[-39,64],[-34,66],[-30,65],[-26,60],[-20,63],[-16,60],[-12,62],[-8,59],[-3,60],[1,61],[5,60],[8,60],[11,59],[-45,58],[-42,57],[-38,57],[-34,60],[-30,57],[-26,56],[-17,58],[-13,58],[-9,56],[-5,56],[-1,56],[3,56],[7,56],[-49,55],[-46,53],[-43,53],[-39,52],[-35,52],[-16,54],[-12,55],[-8,52],[-4,52],[0,52],[3,53],[-45,52],[-42,49],[-17,50],[-13,47],[-8,49],[-4,49],[1,47],[4,49],[-7,47],[-3,46],[1,44],[2,46],[-6,42],[-2,42],[3,43],[6,43],[9,45],[13,41],[16,42],[-7,39],[-3,37],[2,38],[5,37],[9,39],[13,39],[17,39],[0,34],[4,33],[8,36],[11,35],[15,33],[18,35],[-5,30],[-1,28],[4,30],[11,32],[13,29],[1,17],[-1,19],[13,21],[17,20],[15,18],[17,16]];
// Panel (e) HGT-HIRE
const e0=[[-11,76],[-7,75],[-16,74],[-18,70],[-13,72],[-9,71],[-5,72],[-1,71],[2,70],[5,70],[-17,69],[-14,68],[-10,68],[-6,67],[-3,67],[0,68],[4,67],[7,65],[10,67],[14,64],[16,63],[-28,66],[-25,62],[-20,65],[-16,64],[-12,63],[-8,61],[-4,63],[0,61],[3,60],[6,60],[9,62],[13,60],[15,61],[-31,58],[-28,56],[-24,60],[-19,60],[-15,58],[-10,57],[-6,58],[-3,58],[5,59],[9,58],[12,57],[-31,52],[-28,54],[-24,54],[-22,53],[-18,55],[-13,54],[-9,53],[13,54],[16,54],[19,54],[-31,49],[-27,50],[-23,50],[9,50],[12,50],[16,50],[20,50],[-32,44],[-28,46],[-25,46],[-19,46],[-1,48],[3,47],[6,46],[10,47],[14,46],[18,47],[22,46],[-31,41],[-27,42],[-25,40],[-2,44],[1,44],[5,42],[9,42],[13,43],[17,42],[-29,38],[-26,36],[-7,39],[-4,40],[-1,40],[4,39],[8,39],[12,40],[15,39],[24,39],[27,40],[29,39],[-30,35],[-7,36],[-5,33],[-1,34],[3,32],[8,32],[12,32],[16,33],[24,35],[27,33],[30,35],[25,31],[-1,30],[8,28],[12,28],[17,28],[22,27],[26,28],[2,28],[7,25],[11,25],[15,24],[20,25],[24,24],[29,26],[32,26],[-3,25],[5,20],[8,19],[13,20],[20,20],[25,20],[29,21],[32,20],[34,23],[8,21],[11,18],[22,18],[26,16],[30,16],[-5,18],[-9,17],[-1,11],
[10,12],[12,11],[13,9],[18,11],[28,12],[44,17],[48,13],[36,10],[40,3],[46,5],[43,5],[28,6],[24,5],[20,3],[7,1],[7,-4],[11,-2],[22,-3],[7,-12],[12,-15],[53,-11],[56,1],[-10,-16],[-6,-14],[-9,-23],[-9,-15]];
const e0b=[[-12,73],[-8,72],[-15,70],[-11,69],[-7,70],[-3,69],[1,69],[7,68],[11,64],[-19,67],[-16,66],[-13,66],[-9,65],[-5,65],[-1,64],[3,64],[6,63],[17,60],[-29,63],[-26,65],[-23,63],[-18,63],[-14,61],[-10,60],[-6,60],[-2,60],[2,57],[7,57],[11,59],[14,58],[17,57],[-29,60],[-26,58],[-22,58],[-17,58],[-12,57],[-8,55],[9,55],[15,56],[-30,55],[-26,52],[-20,51],[-16,53],[12,53],[18,52],[21,52],[-29,48],[-25,48],[-21,48],[7,49],[10,52],[14,48],[19,49],[23,48],[-30,47],[-27,44],[-24,43],[-1,45],[4,44],[8,45],[12,45],[16,44],[20,44],[25,43],[-29,44],[-28,40],[-6,41],[-3,38],[1,38],[6,37],[10,37],[14,38],[18,39],[26,36],[-6,37],[-3,35],[1,36],[5,33],[10,33],[14,30],[18,33],[22,30],[28,30],[3,30],[6,29],[10,30],[15,27],[19,28],[24,27],[28,24],[31,24],[6,23],[9,23],[13,25],[18,23],[22,23],[26,22],[6,18],[10,16],[14,18],[24,18],[28,18],[31,18],[23,15],[27,14]];
const e1=[[-19,-29],[-15,-33],[-12,-29],[-9,-29],[-5,-27],[-1,-22],[1,-27],[4,-26],[8,-28],[-15,-37],[-11,-37],[-7,-36],[-3,-33],[2,-33],[5,-37],[8,-37],[-16,-40],[-13,-42],[-9,-42],[-5,-39],[1,-40],[4,-43],[-15,-45],[-11,-46],[-7,-47],[-4,-46],[2,-48],[6,-49],[-13,-50],[-9,-52],[-6,-50],[-2,-52],[2,-52],[6,-53],[-12,-55],[-8,-56],[-5,-55],[0,-56],[3,-56],[-9,-59],[-5,-60],[-1,-60],
[-4,-14],[-1,-19],[3,-10],[2,-15],[5,-16],[7,-17],[10,-19],[13,-20],[16,-20],[6,-23],[9,-22],[13,-25],[16,-25],[18,-28],[12,-30],[15,-33],[18,-31],[14,-39],[11,-36],[8,-44],[12,-42],[16,-45],[20,-45],[24,-44],[9,-49],[12,-50],[16,-50],[20,-49],[24,-50],[7,-57],[11,-56],[15,-58],[19,-54],[22,-55],[26,-56],[29,-55],[32,-53],[10,-62],[13,-66],[16,-63],[20,-65],[23,-60],[26,-65],[29,-64],[28,-60],[12,-68],[9,-60],
[6,-5],[5,-3],[9,-6],[9,-10],[13,-8],[17,-3],[15,2],[18,3],[20,-7],[19,-13],[22,-13],[25,-1],[29,-2],[32,-3],[27,-8],[31,-12],[34,-7],[36,-11],[24,-17],[28,-18],[31,-15],[35,-16],[29,-22],[33,-23],[36,-20],[38,-23],[43,-18],[45,-20],[25,-25],[28,-29],[32,-28],[36,-28],[40,-27],[44,-26],[47,-28],[26,-38],[30,-36],[35,-36],[39,-38],[45,-33],[42,-43],[45,-40],[50,-34],[53,-41],[56,-40],[22,-37],[27,-44],[31,-43],[34,-46],[38,-49],[33,-52],[41,-49],[44,-45],[47,-48],[48,-44],
[47,10],[50,9],[53,5],[50,2],[47,-2],[44,-3],[49,-5],[52,-7],[54,-12],[57,-11],[58,-14],[55,-16],[52,-18],[47,-15],[46,-21],[50,-20],[40,-18],[37,-9],[31,3],[33,-2],[37,5],[40,12],[38,15],[41,14],[44,12],[35,8],[32,10],[30,25],[33,30],[37,20],[-5,-18],[4,-3],[3,-6],[24,-20],[21,8],[16,7],[13,4],[10,0]];
const e1b=[[-17,-33],[-13,-31],[-9,-33],[-6,-31],[-2,-28],[-3,-24],[1,-24],[3,-30],[6,-31],[-13,-39],[-9,-39],[-6,-42],[-2,-37],[0,-36],[3,-40],[7,-41],[-17,-43],[-13,-47],[-9,-45],[-2,-43],[1,-44],[5,-46],[-14,-52],[-11,-50],[-8,-49],[-4,-50],[0,-50],[4,-51],[-11,-53],[-7,-53],[-3,-57],[1,-59],[5,-56],[-11,-58],[-7,-58],[-2,-55],[1,-20],[5,-20],[8,-25],[11,-23],[15,-22],[14,-28],[11,-27],[16,-36],[13,-33],[11,-39],[10,-46],[14,-46],[18,-47],[22,-47],[25,-47],[11,-52],[14,-53],[17,-52],[20,-52],[24,-53],[27,-52],[30,-50],[9,-58],[13,-61],[17,-60],[21,-58],[25,-60],[30,-59],[15,-66],[18,-66],[23,-65],[12,-64],[8,-9],[11,-6],[12,-11],[15,-5],[20,-1],[22,-5],[23,-9],[27,-4],[30,-6],[33,-10],[38,-7],[25,-14],[27,-13],[31,-18],[34,-13],[39,-14],[27,-22],[31,-25],[35,-24],[39,-20],[42,-22],[46,-24],[27,-33],[31,-32],[35,-31],[39,-32],[42,-30],[46,-36],[49,-39],[52,-37],[50,-43],[30,-40],[34,-41],[37,-44],[43,-47],[46,-46],[36,-53],[40,-51],[45,-50],[48,6],[46,3],[51,-1],[46,-7],[50,-11],[56,-14],[60,-13],[53,-15],[49,-17],[44,-14],[42,-10],[44,-7],[41,8],[39,11],[36,11],[43,9],[30,8],[29,4],[34,1],[27,3],[23,1],[20,-10],[24,-10],[16,-14],[35,18],[38,22],[41,20],[44,18]];
const e2=[[-45,30],[-46,24],[-49,28],[-53,28],[-55,25],[-61,27],[-65,23],[-68,24],[-70,17],[-69,19],[-65,18],[-61,15],[-57,21],[-53,20],[-53,17],[-49,19],[-46,19],[-50,15],[-46,23],[-68,14],[-65,12],[-60,10],[-57,8],[-53,12],[-71,8],[-68,5],[-64,4],[-59,5],[-55,7],[-71,5],[-68,2],[-63,1],[-60,3],[-56,2],[-51,5],[-47,5],[-44,4],[-41,5],[-38,5],[-36,8],[-32,6],[-31,2],[-42,1],[-38,0],[-35,0],[-30,-1],[-50,0],[-47,-2],[-42,-3],[-35,-4],[-30,-5],[-70,-3],[-66,-5],[-62,-4],[-59,-6],[-54,-5],[-50,-5],[-45,-5],[-38,-6],[-31,-7],[-29,-5],[-70,-9],[-65,-9],[-62,-11],[-57,-9],[-53,-9],[-48,-10],[-44,-11],[-39,-8],[-35,-11],[-31,-10],[-69,-11],[-64,-15],[-60,-13],[-55,-13],[-50,-14],[-46,-12],[-41,-14],[-38,-13],[-32,-13],[-63,-18],[-58,-17],[-53,-18],[-47,-18],[-41,-18],[-36,-18],[-31,-17],[-27,-14],[-25,-16],[-29,-18],[-52,-21],[-50,-24],[-46,-23],[-42,-24],[-36,-25],[-32,-24],[-29,-22],[-26,-24],[-23,-22],[-20,-20],[-22,-25],[-18,-24],[-44,-27],[-42,-28],[-15,-28],[-13,-24],[-13,-14],[-9,-15],[-5,-17],[-7,-16],[-10,17],[-8,17],[-9,15],[-6,18],[-31,35]];
const e2b=[[-47,27],[-51,26],[-56,27],[-59,26],[-63,25],[-67,21],[-63,20],[-59,18],[-55,18],[-51,22],[-48,21],[-66,16],[-63,14],[-58,14],[-55,15],[-51,17],[-70,12],[-67,10],[-63,8],[-59,11],[-55,10],[-69,7],[-66,3],[-62,6],[-57,6],[-53,6],[-49,3],[-46,2],[-43,6],[-40,3],[-36,4],[-34,6],[-33,3],[-39,-2],[-37,3],[-44,0],[-33,-3],[-51,-3],[-48,-5],[-56,0],[-53,-1],[-59,-1],[-62,-1],[-65,-1],[-69,-1],[-68,-6],[-64,-7],[-60,-9],[-56,-6],[-51,-8],[-47,-8],[-42,-7],[-37,-9],[-33,-8],[-67,-12],[-63,-12],[-58,-11],[-54,-11],[-50,-11],[-43,-14],[-36,-14],[-34,-16],[-29,-15],[-66,-13],[-61,-16],[-56,-16],[-51,-16],[-46,-16],[-43,-17],[-39,-16],[-34,-19],[-29,-20],[-55,-20],[-49,-21],[-44,-21],[-39,-21],[-34,-22],[-30,-25],[-48,-25],[-44,-24],[-39,-25],[-34,-25],[-24,-24],[-20,-25]];
// Panel (f) HGConv-HIRE
const f0=[[-42,52],[-40,52],[-36,47],[-34,48],[-41,48],[-43,45],[-39,45],[-35,44],[-37,42],[-33,41],[-42,42],[-38,40],[-34,38],[-60,42],[-56,41],[-52,42],[-48,40],[-44,38],[-41,36],[-52,39],[-57,38],[-63,36],[-60,34],[-57,33],[-53,35],[-48,33],[-44,33],[-35,30],[-65,35],[-62,31],[-58,30],[-54,28],[-50,29],[-46,31],[-42,30],[-37,29],[-33,28],[-29,29],[-26,30],[-27,27],[-62,27],[-59,24],[-53,25],[-48,26],[-41,26],[-37,26],[-34,27],[-26,23],[-50,22],[-46,20],[-42,23],[-38,20],[-52,17],[-48,19],[-44,16],[-41,18],[-36,18],[-33,17],[-30,14],[-54,14],[-50,15],[-47,14],[-41,15],[-37,13],[-33,14],[-56,12],[-52,10],[-45,10],[-39,11],[-36,10],[-31,11],[-55,8],[-51,6],[-47,7],[-43,7],[-38,8],[-34,9],[-30,8],[-53,4],[-48,4],[-45,4],[-41,3],[-36,3],[-33,2],[-59,1],[-55,2],[-48,0],[-45,0],[-58,-2],[-54,-2],[-50,-1],[-41,-4],[-37,-5],[-33,-4],[-53,-7],[-50,-7],[-48,-8],[-46,-7],
[-30,-7],[-28,-7],[-29,-13],[-26,-12],[-24,-12],[-25,-4],[-24,-1],[-21,-2],[-25,-8],[-21,-13],[-18,-1],[-16,7],[-13,4],[-16,2],[-12,-2],[-9,-4],[-10,7],[-8,11],[-5,8],[-2,7],[1,6],[-6,-5],[-4,-5],[-9,-6],[3,6],[3,-8],[8,-6],[4,-11],[8,-12],[3,-14],[2,-18],[4,-16],[2,26],[-1,26],[3,22],[8,17],[13,13],[4,13],[20,27],[33,50],[19,-10],[20,-21],[20,-23],[35,-23],[18,-32],[-1,-36],[2,-37],[7,-38],[10,-39],[8,-42]];
const f0b=[[-38,50],[-40,46],[-37,44],[-42,40],[-39,42],[-36,40],[-33,39],[-58,40],[-54,40],[-50,41],[-46,39],[-61,37],[-58,36],[-55,36],[-50,36],[-46,36],[-42,35],[-38,34],[-35,33],[-64,33],[-60,31],[-56,31],[-52,32],[-48,30],[-44,28],[-40,29],[-36,25],[-30,27],[-60,27],[-56,26],[-52,22],[-50,25],[-46,24],[-44,24],[-39,24],[-28,25],[-48,22],[-44,21],[-40,21],[-36,21],[-50,19],[-46,17],[-42,19],[-39,17],[-34,19],[-31,16],[-52,14],[-49,12],[-45,13],[-42,13],[-38,15],[-35,15],[-30,12],[-54,11],[-49,9],[-42,10],[-36,12],[-33,10],[-53,7],[-48,7],[-45,7],[-40,6],[-36,7],[-31,5],[-50,3],[-43,4],[-38,3],[-35,5],[-56,-1],[-52,-1],[-46,1],[-43,1],[-40,-2],[-52,-5],[-49,-4],[-44,-2],[-47,-9],[-28,-10],[-24,-9],[-28,-5],[-22,-5],[-26,-3],[-14,5],[-15,3],[-18,3],[-14,-2],[-10,-5],[-8,-7],[-6,-7],[2,-11],[5,-9],[6,-14]];
const f1=[[30,52],[34,53],[37,56],[40,54],[43,52],[47,50],[50,53],[53,54],[56,55],[58,58],[61,56],[63,52],[66,49],[28,50],[31,47],[36,50],[39,49],[44,47],[48,46],[52,49],[57,50],[61,49],[65,46],[27,43],[31,41],[35,42],[38,45],[42,43],[46,42],[50,44],[54,44],[58,44],[62,44],[27,38],[29,37],[33,38],[36,37],[41,38],[45,38],[50,38],[54,39],[58,38],[62,40],[24,33],[27,30],[30,34],[34,32],[38,34],[42,33],[46,33],[50,30],[54,33],[58,33],[62,34],[66,32],[17,28],[21,30],[26,28],[30,29],[33,26],[37,24],[41,28],[45,27],[49,25],[58,28],[62,28],[65,26],[8,35],[9,32],[11,32],[7,28],[4,27],[-1,26],[3,26],[7,24],[11,24],[15,25],[19,24],[23,21],[27,20],[31,22],[36,21],[39,24],[44,23],[53,23],[57,23],[62,22],[66,21],[2,21],[5,19],[9,19],[13,20],[17,20],[20,18],[24,15],[27,15],[54,18],[57,16],[60,18],[64,18],[61,15],[-1,17],[-2,15],[2,14],[5,15],[9,15],[15,14],[18,12],[20,10],[37,14],[35,12],[40,8],[44,10],[50,14],[52,15],[58,13],
[-2,9],[-1,6],[3,5],[6,9],[13,6],[17,5],[21,7],[24,7],[28,5],[32,3],[37,7],[39,5],[43,8],[-1,1],[3,2],[6,3],[10,1],[14,2],[18,3],[22,2],[26,1],[30,2],[37,0],[41,1],[44,-1],[47,-2],[50,-3],[3,-1],[7,-3],[12,-4],[18,-2],[23,0],[28,-3],[32,-3],[40,-3],[44,-4],[48,-5],[48,-9],[47,-10],[16,-9],[19,-8],[24,-6],[27,-8],[31,-7],[35,-7],[38,-10],[-7,-8],[-6,-9],[-13,-6],[13,-9],[15,-12],[22,-11],[26,-12],[29,-11],[33,-10],[36,-12],[21,-16],[24,-16],[28,-15],[32,-16],[20,-18],[24,-21],[27,-20],[31,-19],[35,-21],[38,-19],[41,-21],[45,-20],[47,-21],[19,-25],[23,-24],[27,-25],[31,-24],[34,-24],[38,-27],[42,-25],[19,-31],[24,-31],[27,-27],[33,-29],[16,-36],[19,-35],[22,-32],[-48,-9],[-48,-10],[-60,-4],[-27,-13]];
const f1b=[[32,54],[36,52],[41,51],[45,49],[50,51],[54,52],[57,53],[60,53],[63,49],[30,49],[34,48],[38,48],[42,46],[46,47],[50,47],[55,47],[59,47],[63,46],[29,46],[33,44],[37,43],[41,41],[44,44],[48,43],[52,42],[56,42],[60,41],[64,43],[29,40],[33,41],[38,40],[43,40],[47,40],[52,40],[56,41],[60,38],[26,35],[30,36],[34,35],[39,36],[44,36],[48,35],[52,36],[56,36],[60,36],[23,31],[27,33],[32,31],[36,30],[40,31],[44,31],[52,31],[56,30],[60,31],[64,29],[16,31],[20,27],[24,28],[28,26],[32,28],[36,27],[40,26],[43,24],[56,26],[60,25],[64,24],[9,29],[6,31],[5,25],[9,27],[13,28],[17,25],[22,24],[25,22],[29,23],[34,23],[41,23],[55,21],[59,20],[63,19],[3,23],[7,21],[11,21],[15,22],[18,22],[22,19],[26,18],[52,18],[55,15],[59,15],[0,20],[3,17],[7,16],[11,17],[15,18],[19,15],[23,12],[27,12],[36,17],[39,12],[37,10],[42,6],[0,10],[4,9],[8,6],[11,9],[15,7],[19,6],[23,4],[26,4],[30,6],[34,3],[35,5],[40,3],[45,3],[1,3],[5,0],[8,0],[12,-1],[16,0],[20,0],[24,-2],[27,-1],[31,0],[34,0],[39,-1],[43,-2],[46,-5],[5,-4],[9,-5],[14,-3],[18,-5],[21,-4],[30,-5],[33,-5],[36,-4],[41,-6],[44,-7],[14,-11],[18,-9],[20,-13],[24,-11],[28,-13],[31,-12],[34,-13],[22,-17],[26,-18],[29,-17],[33,-19],[37,-17],[21,-21],[25,-23],[29,-23],[33,-21],[37,-24],[40,-25],[44,-22],[21,-28],[25,-28],[29,-27],[31,-27],[36,-26],[17,-33],[21,-33],[25,-30]];
const f2=[[-53,-41],[-50,-40],[-46,-40],[-43,-40],[-55,-44],[-51,-44],[-47,-44],[-44,-43],[-40,-43],[-37,-44],[-54,-47],[-50,-48],[-46,-48],[-41,-47],[-38,-49],[-52,-50],[-47,-51],[-42,-51],[-37,-52],[-33,-50],[-29,-48],[-52,-52],[-41,-55],[-37,-55],[-33,-54],[-30,-47],[-29,-42],[-25,-40],[-23,-45],[-20,-43],[-17,-43],[-25,-48],[-20,-47],[-16,-48],[-12,-50],[-26,-51],[-22,-54],[-18,-52],[-13,-56],[-9,-55],[-31,-58],[-27,-56],[-23,-58],[-19,-56],[-15,-54],[-9,-58],[-41,-58],[-38,-60],[-35,-60],[-30,-60],[-25,-63],[-19,-62],[-14,-60],[-10,-60],[-6,-60],[-6,-64],[-21,-66],[-17,-65],[-13,-68],[-6,-68],[-2,-66],[-1,-68],[-20,-70],[-18,-69],[-12,-72],[-15,-73],[-18,-74],[-23,-73],[-21,-73],[-22,-76],
[-4,-37],[-6,-37],[-2,-36],[-5,-40],[-5,-44],[-3,-42],[0,-42],[3,-47],[3,-44],[7,-44],[0,-48],[3,-51],[7,-50],[10,-50],[14,-48],[19,-37],[20,-42],[19,-45],[22,-46],[25,-46],[19,-50],[20,-54],[15,-54],[13,-53],[5,-55],[1,-54],[-1,-57],[4,-58],[1,-60],[-5,-52],[-3,-54],[2,-62],[0,-65],[31,-32],[33,-31],[35,-29],[5,-39]];
const f2b=[[-51,-41],[-48,-42],[-45,-42],[-52,-46],[-48,-46],[-44,-46],[-41,-44],[-38,-45],[-52,-48],[-48,-50],[-44,-49],[-40,-49],[-36,-49],[-50,-52],[-44,-53],[-39,-53],[-35,-52],[-31,-53],[-42,-57],[-39,-57],[-35,-57],[-28,-45],[-26,-43],[-23,-42],[-19,-46],[-15,-45],[-28,-50],[-24,-51],[-20,-50],[-16,-51],[-12,-53],[-24,-53],[-19,-54],[-15,-57],[-11,-57],[-7,-56],[-29,-55],[-25,-55],[-21,-58],[-17,-59],[-12,-59],[-33,-58],[-28,-59],[-23,-61],[-19,-60],[-15,-62],[-8,-61],[-4,-58],[-22,-63],[-18,-66],[-14,-66],[-9,-63],[-4,-65],[-21,-69],[-16,-70],[-14,-70],[-20,-72],[-4,-47],[-2,-39],[-3,-45],[0,-45],[5,-46],[8,-47],[1,-50],[5,-52],[9,-52],[13,-50],[17,-47],[21,-44],[21,-49],[17,-53],[11,-54],[7,-54],[3,-54],[-2,-51],[-5,-55],[1,-57],[3,-60],[-2,-60],[-3,-62],[0,-62],[-8,-52]];

const classNames=["0","1","2"];
const classColors=["#8000ff","#80ffb4","#ff0000"];
const titles=["(a) RGCN","(b) HGT","(c) HGConv","(d) RGCN-HIRE","(e) HGT-HIRE","(f) HGConv-HIRE"];
const series=[[a0b.concat(a0),a1b.concat(a1),a2b.concat(a2)],[b0b.concat(b0),b1b.concat(b1),b2b.concat(b2)],[c0b.concat(c0),c1b.concat(c1),c2b.concat(c2)],[d0b.concat(d0),d1b.concat(d1),d2b.concat(d2)],[e0b.concat(e0),e1b.concat(e1),e2b.concat(e2)],[f0b.concat(f0),f1b.concat(f1),f2b.concat(f2)]];
const xDomains=[[-64.4,83.2],[-72.2,83.4],[-78.7,75.2],[-78.4,93],[-79,66.4],[-71.1,73.7]];
const yDomains=[[-82.7,81.6],[-70.2,70.6],[-73,74.7],[-57.3,83.4],[-75.2,83.6],[-82.9,65.5]];
const xTicks=[[-50,-25,0,25,50,75],[-50,0,50],[-50,0,50],[-50,0,50],[-75,-50,-25,0,25,50],[-50,-25,0,25,50]];
const yTicks=[[-80,-60,-40,-20,0,20,40,60,80],[-60,-40,-20,0,20,40,60],[-60,-40,-20,0,20,40,60],[-40,-20,0,20,40,60,80],[-60,-40,-20,0,20,40,60,80],[-80,-60,-40,-20,0,20,40,60]];

// layout
const colLeft=[63.5,457.5,851.5], panelW=331, rowTop=[18.5,409.5], rowH=[320,321];
const drawOrder=[1,2,0];
const R=5.6, SW=1, TICK_FS=15.3, LABEL_FS=19.4, LEG_FS=16.7;
const svg=d3.select("#c");
svg.append("rect").attr("width",1200).attr("height",800).attr("fill","#fff");

titles.forEach((title,i)=>{
  const L=colLeft[i%3], T=rowTop[i<3?0:1], W=panelW, H=rowH[i<3?0:1];
  const x=d3.scaleLinear().domain(xDomains[i]).range([L,L+W]);
  const y=d3.scaleLinear().domain(yDomains[i]).range([T+H,T]);
  const g=svg.append("g");
  const clipId="clip"+i;
  svg.append("clipPath").attr("id",clipId).append("rect").attr("x",L).attr("y",T).attr("width",W).attr("height",H);
  const plot=g.append("g").attr("clip-path",`url(#${clipId})`);
  drawOrder.forEach(k=>{
    plot.append("g").selectAll("circle").data(series[i][k]).join("circle")
      .attr("cx",d=>x(d[0])).attr("cy",d=>y(d[1])).attr("r",R)
      .attr("fill",classColors[k]).attr("stroke","#fff").attr("stroke-width",SW);
  });
  const ax=g.append("g").attr("transform",`translate(0,${T+H})`)
    .call(d3.axisBottom(x).tickValues(xTicks[i]).tickFormat(d3.format("d")).tickSize(4.9).tickPadding(6.5));
  const ay=g.append("g").attr("transform",`translate(${L},0)`)
    .call(d3.axisLeft(y).tickValues(yTicks[i]).tickFormat(d3.format("d")).tickSize(4.9).tickPadding(6.5));
  [ax,ay].forEach(a=>{
    a.select(".domain").remove();
    a.selectAll("line").attr("stroke","#000").attr("stroke-width",1.1);
    a.selectAll("text").attr("font-size",TICK_FS).attr("font-family","DejaVu Sans").attr("fill","#000");
  });
  g.append("rect").attr("x",L).attr("y",T).attr("width",W).attr("height",H)
    .attr("fill","none").attr("stroke","#000").attr("stroke-width",1.1);
  g.append("text").attr("x",L+W/2).attr("y",T+H+48).attr("text-anchor","middle")
    .attr("font-size",LABEL_FS).text(title);
  // legend
  const lg=g.append("g").attr("transform",`translate(${L+W-78.3},${T+8.2})`);
  lg.append("rect").attr("width",70.3).attr("height",83.3).attr("rx",3)
    .attr("fill","#fff").attr("fill-opacity",0.8).attr("stroke","#ccc").attr("stroke-width",1.1);
  classNames.forEach((n,k)=>{
    const cy=16.6+26*k;
    lg.append("circle").attr("cx",22.6).attr("cy",cy).attr("r",5.2)
      .attr("fill",classColors[k]).attr("stroke","#fff").attr("stroke-width",SW);
    lg.append("text").attr("x",57.6).attr("y",cy+3.6).attr("text-anchor","middle")
      .attr("font-size",LEG_FS).text(n);
  });
});
</script></body></html>
